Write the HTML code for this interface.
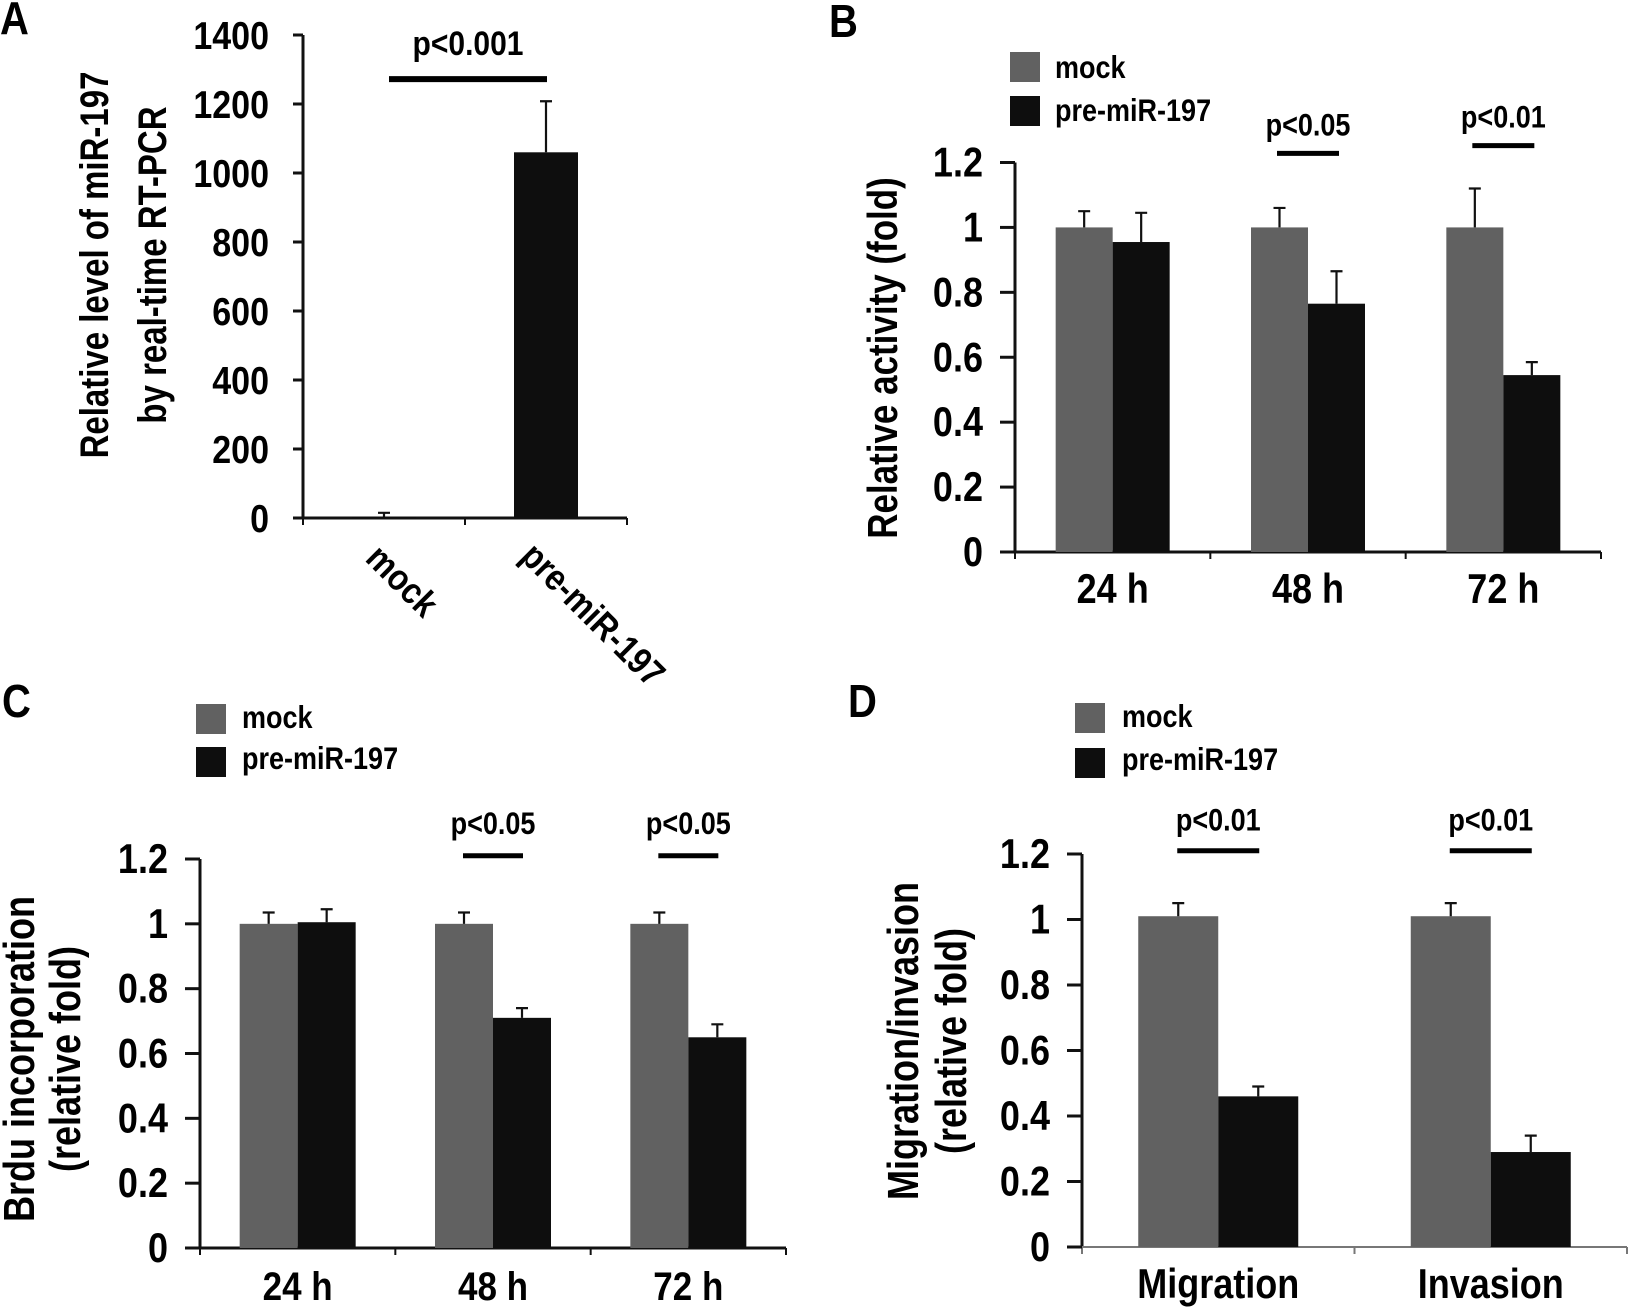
<!DOCTYPE html>
<html><head><meta charset="utf-8"><style>
html,body{margin:0;padding:0;background:#fff;}
svg{display:block;font-family:"Liberation Sans",Arial,sans-serif;font-weight:bold;}
</style></head><body>
<svg id="fig" width="1630" height="1307" viewBox="0 0 1630 1307" xmlns="http://www.w3.org/2000/svg"></svg>
<script>
// ---- Panel A data ----
const aCategories = ["mock", "pre-miR-197"];
const aValues = [3, 1060];
const aErrors = [12, 148];
const aTicks = [0, 200, 400, 600, 800, 1000, 1200, 1400];
// ---- Panel B data ----
const bCategories = ["24 h", "48 h", "72 h"];
const bMock = [1.0, 1.0, 1.0];
const bMockErr = [0.05, 0.06, 0.12];
const bPre = [0.955, 0.765, 0.545];
const bPreErr = [0.09, 0.10, 0.04];
const bSig = ["", "p<0.05", "p<0.01"];
const bSigLevel = [0, 1.228, 1.252];
// ---- Panel C data ----
const cCategories = ["24 h", "48 h", "72 h"];
const cMock = [1.0, 1.0, 1.0];
const cMockErr = [0.035, 0.035, 0.035];
const cPre = [1.005, 0.71, 0.65];
const cPreErr = [0.04, 0.03, 0.04];
const cSig = ["", "p<0.05", "p<0.05"];
const cSigLevel = [0, 1.21, 1.21];
// ---- Panel D data ----
const dCategories = ["Migration", "Invasion"];
const dMock = [1.01, 1.01];
const dMockErr = [0.04, 0.04];
const dPre = [0.46, 0.29];
const dPreErr = [0.03, 0.05];
const dSig = ["p<0.01", "p<0.01"];
const dSigLevel = [1.21, 1.21];
const yTicks12 = [0, 0.2, 0.4, 0.6, 0.8, 1, 1.2];
const tickLabels12 = ["0", "0.2", "0.4", "0.6", "0.8", "1", "1.2"];

const NS = "http://www.w3.org/2000/svg";
const svg = document.getElementById("fig");
const MOCK = "#616161", PRE = "#0e0e0e";

function mk(tag, attrs, parent) {
  const e = document.createElementNS(NS, tag);
  for (const k in attrs) e.setAttribute(k, attrs[k]);
  (parent || svg).appendChild(e);
  return e;
}
// horizontal text: taller glyphs, condensed width
function txt(parent, s, x, y, size, anchor, rot, sx, sy) {
  if (sx === undefined) { sx = 0.87; sy = 1; size = size * 1.15; }
  const t = mk("text", {x: 0, y: 0, "font-size": size, "text-anchor": anchor || "start", fill: "#000",
    transform: "translate(" + x + "," + y + ")" + (rot ? " rotate(" + rot + ")" : "") + " scale(" + sx + "," + sy + ")"}, parent);
  t.textContent = s;
  return t;
}

function panel(cfg) {
  const g = mk("g", {});
  
  
  const ax = cfg.ax, y0 = cfg.y0, yTop = cfg.yTop, vmax = cfg.vmax;
  const ys = v => y0 - (v / vmax) * (y0 - yTop);
  const catW = (cfg.xRight - ax) / cfg.cats.length;
  const cx = i => ax + (i + 0.5) * catW;

  const yAxis = mk("line", {x1: ax, y1: yTop, x2: ax, y2: y0, stroke: "#111", "stroke-width": 3}, g);
  
  
  const xAxis = mk("line", {x1: ax - cfg.tickLen, y1: y0, x2: cfg.xRight, y2: y0, stroke: cfg.xAxisColor || "#111", "stroke-width": cfg.xAxisW || 3}, g);
  
  
  for (let i = 0; i <= cfg.cats.length; i++) {
    const xt = ax + i * catW;
    const tk = mk("line", {x1: xt, y1: y0, x2: xt, y2: y0 + 7, stroke: cfg.xAxisColor || "#111", "stroke-width": 2}, g);
    
    
  }
  cfg.ticks.forEach((v, i) => {
    const y = ys(v);
    const tk = mk("line", {x1: ax - cfg.tickLen, y1: y, x2: ax, y2: y, stroke: "#111", "stroke-width": 3}, g);
    
    
    const tl = txt(g, cfg.tickLabels[i], ax - cfg.labelGap, y + 14, cfg.tickSize, "end");
    
    
  });

  cfg.series.forEach((s, si) => {
    s.values.forEach((v, i) => {
      let x;
      if (cfg.series.length === 1) x = cx(i) - cfg.barW / 2;
      else x = si === 0 ? cx(i) - cfg.barW : cx(i);
      const top = ys(v);
      const r = mk("rect", {x: x, y: top, width: cfg.barW, height: y0 - top, fill: s.color}, g);
      
      
      const ex = x + cfg.barW / 2, et = ys(v + s.errs[i]);
      const el = mk("path", {d: "M" + ex + "," + top + "V" + et + "M" + (ex - 6) + "," + et + "H" + (ex + 6), stroke: "#111", "stroke-width": 2.2, fill: "none"}, g);
      
      
    });
  });

  cfg.sig.forEach((s, i) => {
    if (!s) return;
    const y = ys(cfg.sigLevel[i]);
    const x1 = cfg.sigSpan ? cfg.sigSpan[0] : cx(i) - cfg.sigHalf;
    const x2 = cfg.sigSpan ? cfg.sigSpan[1] : cx(i) + cfg.sigHalf;
    const l = mk("line", {x1: x1, y1: y, x2: x2, y2: y, stroke: "#000", "stroke-width": cfg.sigW || 5}, g);
    
    
    const t = txt(g, s, (x1 + x2) / 2, y - cfg.sigGap, cfg.sigSize, "middle");
    
    
  });

  cfg.cats.forEach((c, i) => {
    let t;
    if (cfg.rotLabels) t = txt(g, c, cfg.rotLabels[i][0], cfg.rotLabels[i][1], cfg.catSize, "start", 45, 1, 1.15);
    else t = txt(g, c, cx(i), cfg.catY, cfg.catSize, "middle");
    
    
  });

  cfg.title.forEach((line, i) => {
    const t = txt(g, line, cfg.titleX[i], cfg.titleY, cfg.titleSize, "middle", -90, 1, 1.2);
    
    
  });

  const pl = txt(g, cfg.letter, cfg.letterPos[0], cfg.letterPos[1], 40, "start");
  
  

  if (cfg.legend) {
    const L = cfg.legend;
    [[MOCK, "mock", L.y1, L.t1], [PRE, "pre-miR-197", L.y2, L.t2]].forEach(e => {
      const lg = mk("g", {}, g);
      
      
      mk("rect", {x: L.x, y: e[2], width: 30, height: 30, fill: e[0]}, lg);
      txt(lg, e[1], L.tx, e[3], 27, "start");
    });
  }
}

panel({name: "panel-a", letter: "A", letterPos: [0, 34], ax: 303, y0: 518, yTop: 35, vmax: 1400, xRight: 627,
  cats: aCategories, barW: 64, tickLen: 10, labelGap: 34, tickSize: 34,
  ticks: aTicks, tickLabels: aTicks.map(String),
  series: [{key: "pre", values: aValues, errs: aErrors, color: PRE}],
  sig: ["p<0.001"], sigLevel: [1272], sigSpan: [389, 547], sigGap: 24, sigSize: 30, sigW: 6,
  rotLabels: [[364, 560], [519, 558]], catSize: 32,
  title: ["Relative level of miR-197", "by real-time RT-PCR"], titleX: [108, 166], titleY: 265, titleSize: 33});

panel({name: "panel-b", letter: "B", letterPos: [829, 37], ax: 1015, y0: 552, yTop: 162.5, vmax: 1.2, xRight: 1601,
  cats: bCategories, barW: 57, tickLen: 15, labelGap: 32, tickSize: 36,
  ticks: yTicks12, tickLabels: tickLabels12,
  series: [{key: "mock", values: bMock, errs: bMockErr, color: MOCK}, {key: "pre", values: bPre, errs: bPreErr, color: PRE}],
  sig: bSig, sigLevel: bSigLevel, sigHalf: 31, sigGap: 18, sigSize: 27,
  catY: 603, catSize: 36,
  title: ["Relative activity (fold)"], titleX: [897], titleY: 358, titleSize: 35,
  legend: {x: 1010, y1: 52, y2: 96, tx: 1055, t1: 78, t2: 121}});

panel({name: "panel-c", letter: "C", letterPos: [2, 717], ax: 200, y0: 1248, yTop: 859, vmax: 1.2, xRight: 786,
  cats: cCategories, barW: 58, tickLen: 15, labelGap: 32, tickSize: 36,
  ticks: yTicks12, tickLabels: tickLabels12,
  series: [{key: "mock", values: cMock, errs: cMockErr, color: MOCK}, {key: "pre", values: cPre, errs: cPreErr, color: PRE}],
  sig: cSig, sigLevel: cSigLevel, sigHalf: 30, sigGap: 22, sigSize: 27,
  catY: 1300, catSize: 35,
  title: ["Brdu incorporation", "(relative fold)"], titleX: [34, 80], titleY: 1059, titleSize: 36,
  legend: {x: 196, y1: 704, y2: 747, tx: 242, t1: 728, t2: 769}});

panel({name: "panel-d", letter: "D", letterPos: [848, 717], ax: 1082, y0: 1247, yTop: 854, vmax: 1.2, xRight: 1627,
  cats: dCategories, barW: 80, tickLen: 15, labelGap: 32, tickSize: 36,
  ticks: yTicks12, tickLabels: tickLabels12, xAxisColor: "#777", xAxisW: 2,
  series: [{key: "mock", values: dMock, errs: dMockErr, color: MOCK}, {key: "pre", values: dPre, errs: dPreErr, color: PRE}],
  sig: dSig, sigLevel: dSigLevel, sigHalf: 41, sigGap: 20, sigSize: 27,
  catY: 1298, catSize: 36,
  title: ["Migration/invasion", "(relative fold)"], titleX: [918, 966], titleY: 1041, titleSize: 36,
  legend: {x: 1075, y1: 703, y2: 748, tx: 1122, t1: 727, t2: 770}});
</script>
</body></html>
